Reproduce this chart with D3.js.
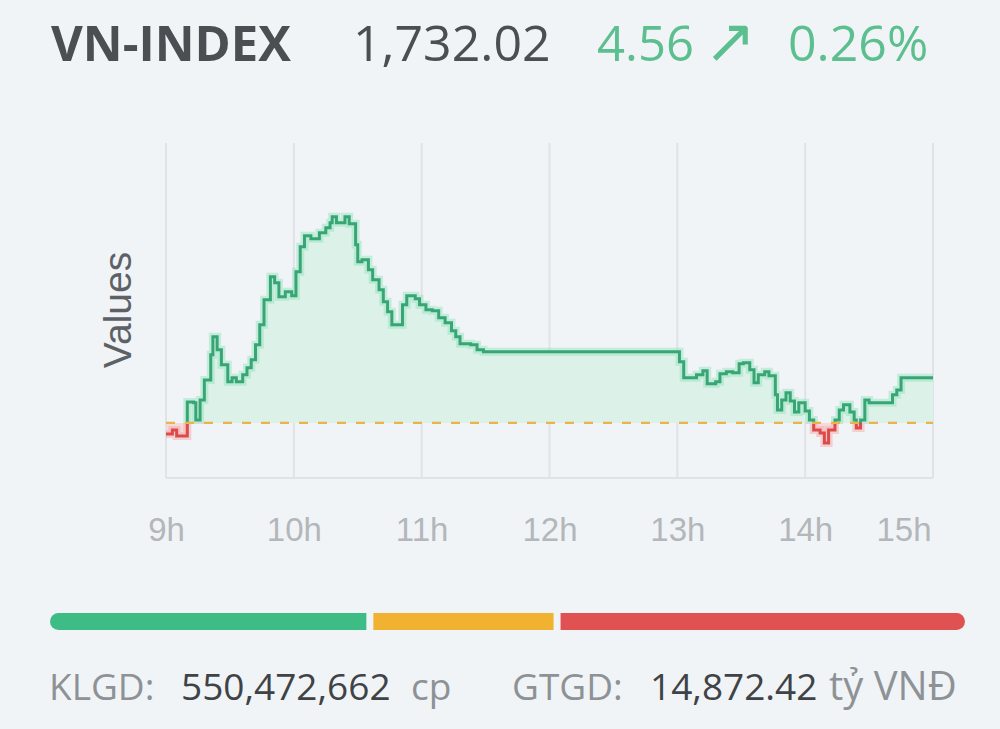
<!DOCTYPE html>
<html>
<head>
<meta charset="utf-8">
<script src="https://cdn.jsdelivr.net/npm/d3@7"></script>
<style>
  html, body { margin: 0; padding: 0; background: #f1f4f6; }
  svg { display: block; }
</style>
</head>
<body>
<svg id="chart" width="1000" height="729"></svg>
<script>
// header values
const indexName = 'VN-INDEX'
const indexValue = '1,732.02'
const indexChange = '4.56'
const indexPct = '0.26%'
const refValue = 1727.46

// intraday trace (time, value)
const times = [
  '9:00','9:03','9:05','9:10','9:13','9:14','9:16','9:18','9:21','9:22',
  '9:24','9:26','9:29','9:31','9:33','9:36','9:38','9:40','9:42','9:44',
  '9:46','9:49','9:51','9:53','9:56','9:59','10:01','10:03','10:05','10:08',
  '10:12','10:15','10:17','10:18','10:20','10:23','10:24','10:26','10:29','10:30',
  '10:32','10:35','10:37','10:40','10:42','10:44','10:46','10:49','10:51','10:53',
  '10:57','10:59','11:02','11:05','11:08','11:11','11:14','11:16','11:18','11:23',
  '11:26','11:29',
  '13:01','13:03','13:06','13:09','13:12','13:14','13:18','13:20','13:23','13:26',
  '13:29','13:31','13:34','13:36','13:38','13:41','13:43','13:46','13:47','13:49',
  '13:51','13:53','13:55','13:57','14:00','14:02','14:04','14:07','14:09','14:11',
  '14:14','14:16','14:18','14:21','14:23','14:24','14:26','14:28','14:30','14:39',
  '14:41','14:43','14:45','15:00'
]
const values = [
  1726.35,1726.75,1726.15,1729.58,1729.48,1727.76,1729.78,1731.80,1734.33,1736.15,
  1734.83,1733.32,1731.60,1732.01,1731.60,1732.31,1733.02,1733.82,1735.34,1737.36,
  1739.88,1742.21,1741.60,1740.19,1740.69,1740.29,1742.71,1745.24,1746.35,1746.04,
  1746.65,1747.16,1747.66,1748.27,1747.66,1747.66,1748.27,1747.56,1745.44,1743.72,
  1743.92,1742.91,1741.90,1740.89,1739.68,1738.67,1737.36,1737.36,1739.38,1740.29,
  1739.98,1739.38,1738.87,1738.77,1738.07,1737.56,1736.75,1736.15,1735.44,1735.34,
  1734.83,1734.63,
  1733.62,1732.01,1732.01,1732.31,1732.71,1731.40,1731.60,1732.41,1732.61,1732.51,
  1733.42,1733.52,1732.81,1731.50,1732.31,1732.61,1732.21,1730.29,1728.77,1729.78,
  1730.49,1729.68,1728.57,1729.48,1728.67,1727.76,1726.75,1726.45,1725.44,1726.75,
  1727.76,1728.77,1729.28,1728.57,1727.76,1726.95,1727.76,1729.78,1729.48,1729.48,
  1730.29,1730.79,1732.02,1732.02
]

const hourTicks = ['9:00','10:00','11:00','12:00','13:00','14:00','15:00']
const tickLabels = ['9h','10h','11h','12h','13h','14h','15h']
const yDomain = [1721.9, 1755.7]

// breadth bar: advancing, unchanged, declining
const breadthLabels = ['up', 'flat', 'down']
const breadthValues = [158, 90, 202]
const breadthColors = ['#3dbd85', '#f0b230', '#e05252']

// footer
const volLabel = 'KLGD:'
const volValue = '550,472,662'
const volUnit = 'cp'
const valLabel = 'GTGD:'
const valValue = '14,872.42'
const valUnit = 'tỷ VNĐ'

const parseTime = d3.timeParse('%H:%M')
const data = times.map((t, i) => ({ t: parseTime(t), v: values[i] }))

const svg = d3.select('#chart')
const margin = { left: 166, right: 933, top: 143, bottom: 478 }

const x = d3.scaleTime()
  .domain([parseTime('9:00'), parseTime('15:00')])
  .range([margin.left, margin.right])

const y = d3.scaleLinear()
  .domain(yDomain)
  .range([margin.bottom, margin.top])

// ---- header
const header = svg.append('g').attr('class', 'header')
header.append('text')
  .attr('x', 51).attr('y', 61)
  .attr('font-family', '"Open Sans", sans-serif')
  .attr('font-weight', 700)
  .attr('font-size', 49)
  .attr('fill', '#4b4f53')
  .text(indexName)
header.append('text')
  .attr('x', 353).attr('y', 61)
  .attr('font-family', '"Open Sans", sans-serif')
  .attr('font-size', 50)
  .attr('fill', '#4b4f53')
  .text(indexValue)
header.append('text')
  .attr('x', 597).attr('y', 61)
  .attr('font-family', '"Open Sans", sans-serif')
  .attr('font-size', 49)
  .attr('fill', '#5cbf8f')
  .text(indexChange)
header.append('text')
  .attr('x', 704).attr('y', 62)
  .attr('font-family', '"DejaVu Sans", sans-serif')
  .attr('font-size', 62)
  .attr('fill', '#5cbf8f')
  .text('\u2197')
header.append('text')
  .attr('x', 788).attr('y', 61)
  .attr('font-family', '"Open Sans", sans-serif')
  .attr('font-size', 50)
  .attr('fill', '#5cbf8f')
  .text(indexPct)

// ---- grid
const grid = svg.append('g').attr('class', 'grid')
grid.selectAll('line')
  .data(hourTicks)
  .join('line')
  .attr('x1', d => x(parseTime(d)))
  .attr('x2', d => x(parseTime(d)))
  .attr('y1', margin.top)
  .attr('y2', margin.bottom)
  .attr('stroke', '#dfe3e7')
  .attr('stroke-width', 2)

grid.append('line')
  .attr('x1', margin.left).attr('x2', margin.right)
  .attr('y1', margin.bottom).attr('y2', margin.bottom)
  .attr('stroke', '#dfe3e7')
  .attr('stroke-width', 2)

// ---- clip paths above / below reference
const defs = svg.append('defs')
defs.append('clipPath').attr('id', 'clip-up')
  .append('rect')
  .attr('x', margin.left).attr('y', margin.top - 10)
  .attr('width', margin.right - margin.left + 4)
  .attr('height', y(refValue) - margin.top + 10)
defs.append('clipPath').attr('id', 'clip-down')
  .append('rect')
  .attr('x', margin.left).attr('y', y(refValue))
  .attr('width', margin.right - margin.left + 4)
  .attr('height', margin.bottom - y(refValue))

const area = d3.area()
  .curve(d3.curveStepAfter)
  .x(d => x(d.t))
  .y0(y(refValue))
  .y1(d => y(d.v))

const line = d3.line()
  .curve(d3.curveStepAfter)
  .x(d => x(d.t))
  .y(d => y(d.v))

const series = [
  { clip: 'clip-up', fill: '#dcf1e8', glow: '#8fe3bd', stroke: '#38a674' },
  { clip: 'clip-down', fill: '#f6d9da', glow: '#f5a3a3', stroke: '#dc4a4a' }
]

series.forEach(s => {
  const g = svg.append('g').attr('clip-path', `url(#${s.clip})`)
  g.append('path')
    .datum(data)
    .attr('d', area)
    .attr('fill', s.fill)
  g.append('path')
    .datum(data)
    .attr('d', line)
    .attr('fill', 'none')
    .attr('stroke', s.glow)
    .attr('stroke-opacity', 0.45)
    .attr('stroke-width', 8)
  g.append('path')
    .datum(data)
    .attr('d', line)
    .attr('fill', 'none')
    .attr('stroke', s.stroke)
    .attr('stroke-width', 3)
})

// reference line
svg.append('line')
  .attr('x1', margin.left).attr('x2', margin.right)
  .attr('y1', y(refValue)).attr('y2', y(refValue))
  .attr('stroke', '#e9b44c')
  .attr('stroke-width', 2.2)
  .attr('stroke-dasharray', '9,10')

// ---- x axis labels
const xAxis = d3.axisBottom(x)
  .tickValues(hourTicks.map(parseTime))
  .tickFormat((d, i) => tickLabels[i])
  .tickSize(0)
  .tickPadding(40)

const xg = svg.append('g')
  .attr('transform', `translate(0, ${margin.bottom})`)
  .call(xAxis)
xg.select('.domain').remove()
xg.selectAll('text')
  .attr('font-family', '"Liberation Sans", Arial, sans-serif')
  .attr('font-size', 33)
  .attr('fill', '#b3b7bb')
  .attr('dy', '0.32em')
  .attr('y', 52)
// last label is kept inside the plot
xg.selectAll('text')
  .filter((d, i) => i === tickLabels.length - 1)
  .attr('text-anchor', 'end')
  .attr('dx', -2)

// y axis title
svg.append('text')
  .attr('transform', 'translate(131, 310) rotate(-90)')
  .attr('text-anchor', 'middle')
  .attr('font-family', '"Liberation Sans", Arial, sans-serif')
  .attr('font-size', 39)
  .attr('fill', '#5c6166')
  .text('Values')

// ---- breadth bar
const gap = 7
const barX0 = 50, barX1 = 965
const bx = d3.scaleLinear()
  .domain([0, d3.sum(breadthValues)])
  .range([0, barX1 - barX0 - gap * (breadthValues.length - 1)])

let acc = 0
const segs = breadthValues.map((v, i) => {
  const s = { key: breadthLabels[i], x: barX0 + bx(acc) + gap * i, w: bx(v), color: breadthColors[i] }
  acc += v
  return s
})

defs.append('clipPath').attr('id', 'clip-bar')
  .append('rect')
  .attr('x', barX0).attr('y', 613)
  .attr('width', barX1 - barX0).attr('height', 17)
  .attr('rx', 8.5)

svg.append('g')
  .attr('clip-path', 'url(#clip-bar)')
  .selectAll('rect')
  .data(segs)
  .join('rect')
  .attr('x', d => d.x)
  .attr('y', 613)
  .attr('width', d => d.w)
  .attr('height', 17)
  .attr('fill', d => d.color)

// ---- footer
const footer = svg.append('g')
  .attr('font-family', '"Open Sans", sans-serif')
  .attr('font-size', 37)
const foot = [
  { x: 49, t: volLabel, c: '#8d9296' },
  { x: 181, t: volValue, c: '#3f4347' },
  { x: 411, t: volUnit, c: '#8d9296' },
  { x: 512, t: valLabel, c: '#8d9296' },
  { x: 650, t: valValue, c: '#3f4347' },
  { x: 829, t: valUnit, c: '#8d9296', size: 40 }
]
footer.selectAll('text')
  .data(foot)
  .join('text')
  .attr('x', d => d.x)
  .attr('y', 700)
  .attr('fill', d => d.c)
  .attr('font-size', d => d.size || null)
  .text(d => d.t)
</script>
</body>
</html>
